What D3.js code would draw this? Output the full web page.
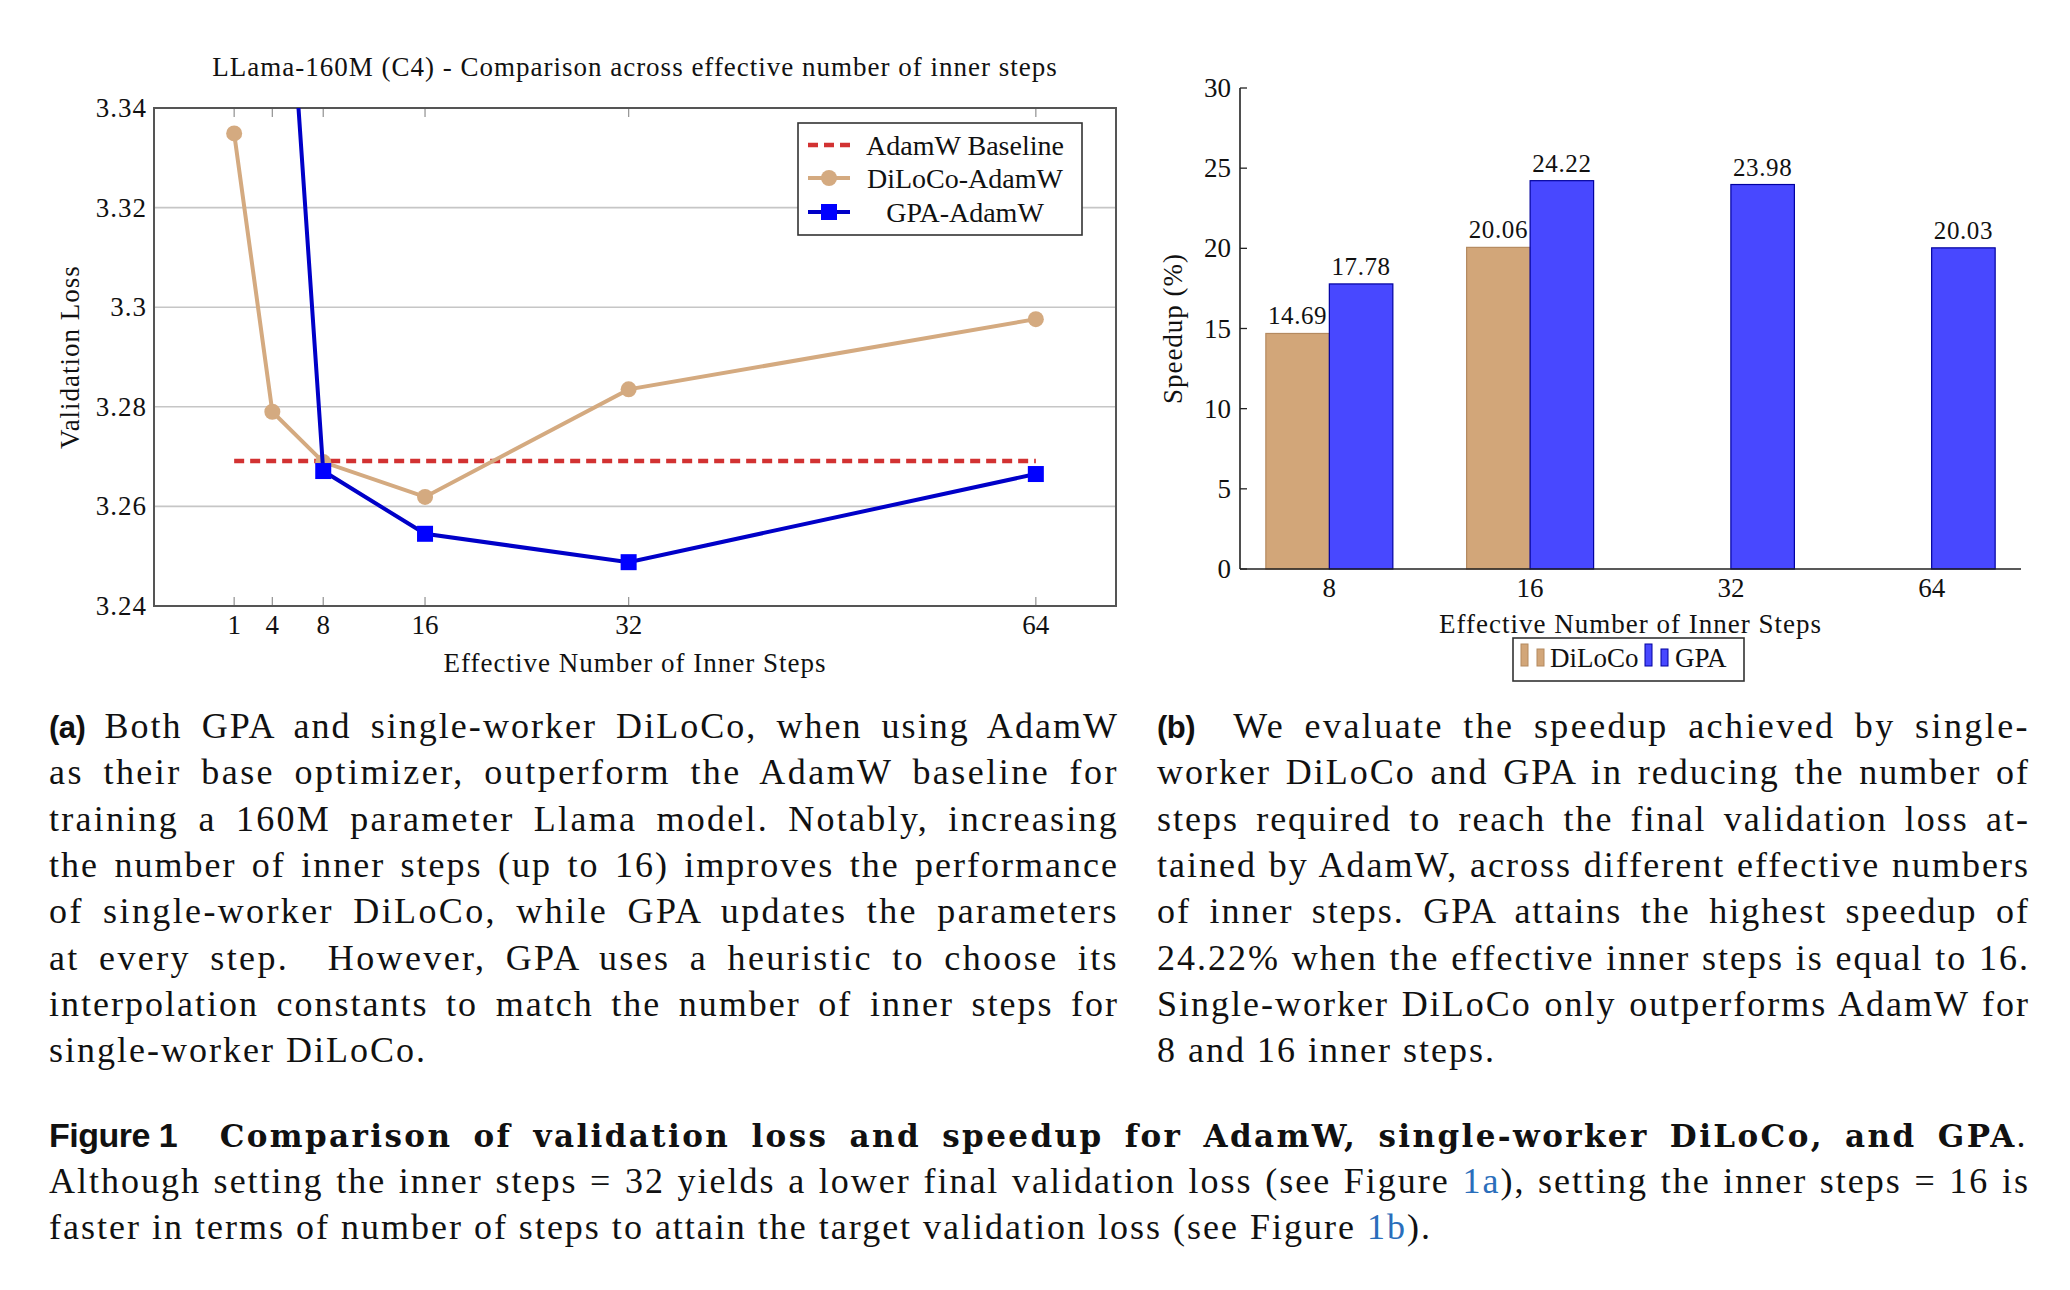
<!DOCTYPE html>
<html>
<head>
<meta charset="utf-8">
<script src="https://cdn.jsdelivr.net/npm/d3@7"></script>
<style>
  body { margin: 0; background: #fff; }
  text { font-family: "Liberation Serif", "Times New Roman", serif; fill: #111; }
  .ch { letter-spacing: 1px; }
</style>
</head>
<body>
<svg id="fig" width="2070" height="1290"></svg>
<script>
// values
var innerSteps = [1, 4, 8, 16, 32, 64];
var dilocoLoss = [3.3349, 3.2790, 3.2689, 3.2619, 3.2835, 3.2976];
var gpaSteps = [4, 8, 16, 32, 64];
var gpaLoss = [3.417, 3.2671, 3.2545, 3.2488, 3.2665];
var adamwBaseline = 3.2691;
var baselineSpan = [1, 64];
var lossTicks = [3.24, 3.26, 3.28, 3.30, 3.32, 3.34];
var lossTickLabels = ['3.24', '3.26', '3.28', '3.3', '3.32', '3.34'];

var speedupCats = ['8', '16', '32', '64'];
var dilocoSpeedup = [14.69, 20.06, null, null];
var gpaSpeedup = [17.78, 24.22, 23.98, 20.03];
var speedupTicks = [0, 5, 10, 15, 20, 25, 30];

var TAN = '#d2a679', TAN_LINE = '#d4aa80', BLUE = '#0000ff', BLUE_LINE = '#0000c8',
    BAR_BLUE = '#4848ff', RED = '#d23232';
var SERIF = '"Liberation Serif", "Times New Roman", serif';

var svg = d3.select('#fig');
svg.append('rect').attr('width', 2070).attr('height', 1290).attr('fill', '#fff');

// ---------- (a) line chart ----------
var L = {left: 154, right: 1116, top: 108, bottom: 606};
var x = d3.scaleLinear().domain([-5.3, 70.3]).range([L.left, L.right]);
var y = d3.scaleLinear().domain([3.24, 3.34]).range([L.bottom, L.top]);

var g1 = svg.append('g');
g1.append('clipPath').attr('id', 'clipL').append('rect')
  .attr('x', L.left).attr('y', L.top)
  .attr('width', L.right - L.left).attr('height', L.bottom - L.top);

g1.selectAll('.grid').data(lossTicks.slice(1, -1)).enter().append('line')
  .attr('class', 'grid')
  .attr('x1', L.left).attr('x2', L.right)
  .attr('y1', function(d) { return y(d); }).attr('y2', function(d) { return y(d); })
  .attr('stroke', '#c6c6c6').attr('stroke-width', 1.6);

// x tick marks (inside, bottom and top)
innerSteps.forEach(function(s) {
  g1.append('line').attr('x1', x(s)).attr('x2', x(s)).attr('y1', L.bottom).attr('y2', L.bottom - 9)
    .attr('stroke', '#999').attr('stroke-width', 1.3);
  g1.append('line').attr('x1', x(s)).attr('x2', x(s)).attr('y1', L.top).attr('y2', L.top + 9)
    .attr('stroke', '#999').attr('stroke-width', 1.3);
});

g1.append('rect')
  .attr('x', L.left).attr('y', L.top)
  .attr('width', L.right - L.left).attr('height', L.bottom - L.top)
  .attr('fill', 'none').attr('stroke', '#555').attr('stroke-width', 2);

g1.selectAll('.ylab').data(lossTicks).enter().append('text')
  .attr('class', 'ch')
  .attr('x', L.left - 7).attr('y', function(d) { return y(d) + 9; })
  .attr('text-anchor', 'end').attr('font-size', 27)
  .text(function(d, i) { return lossTickLabels[i]; });

g1.selectAll('.xlab').data(innerSteps).enter().append('text')
  .attr('x', function(d) { return x(d); }).attr('y', 634)
  .attr('text-anchor', 'middle').attr('font-size', 27)
  .text(function(d) { return d; });

g1.append('text').attr('class', 'ch')
  .attr('x', (L.left + L.right) / 2).attr('y', 76)
  .attr('text-anchor', 'middle').attr('font-size', 27)
  .text('LLama-160M (C4) - Comparison across effective number of inner steps');

g1.append('text').attr('class', 'ch')
  .attr('x', (L.left + L.right) / 2).attr('y', 672)
  .attr('text-anchor', 'middle').attr('font-size', 27)
  .text('Effective Number of Inner Steps');

g1.append('text').attr('class', 'ch')
  .attr('transform', 'translate(79,' + ((L.top + L.bottom) / 2) + ') rotate(-90)')
  .attr('text-anchor', 'middle').attr('font-size', 27)
  .text('Validation Loss');

var plot = g1.append('g').attr('clip-path', 'url(#clipL)');

plot.append('line')
  .attr('x1', x(baselineSpan[0])).attr('x2', x(baselineSpan[1]))
  .attr('y1', y(adamwBaseline)).attr('y2', y(adamwBaseline))
  .attr('stroke', RED).attr('stroke-width', 4.5).attr('stroke-dasharray', '10,6');

var line = d3.line()
  .x(function(d) { return x(d[0]); })
  .y(function(d) { return y(d[1]); });

var diloco = innerSteps.map(function(s, i) { return [s, dilocoLoss[i]]; });
var gpa = gpaSteps.map(function(s, i) { return [s, gpaLoss[i]]; });

plot.append('path').attr('d', line(diloco))
  .attr('fill', 'none').attr('stroke', TAN_LINE).attr('stroke-width', 4);
plot.selectAll('.dot').data(diloco).enter().append('circle')
  .attr('cx', function(d) { return x(d[0]); }).attr('cy', function(d) { return y(d[1]); })
  .attr('r', 8).attr('fill', TAN_LINE);

plot.append('path').attr('d', line(gpa))
  .attr('fill', 'none').attr('stroke', BLUE_LINE).attr('stroke-width', 4);
plot.selectAll('.sq').data(gpa).enter().append('rect')
  .attr('x', function(d) { return x(d[0]) - 8; }).attr('y', function(d) { return y(d[1]) - 8; })
  .attr('width', 16).attr('height', 16).attr('fill', BLUE);

// legend (a)
var lg = g1.append('g');
lg.append('rect').attr('x', 798).attr('y', 123).attr('width', 284).attr('height', 112)
  .attr('fill', '#fff').attr('stroke', '#333').attr('stroke-width', 1.6);
lg.append('line').attr('x1', 808).attr('x2', 850).attr('y1', 145).attr('y2', 145)
  .attr('stroke', RED).attr('stroke-width', 4.5).attr('stroke-dasharray', '10,6');
lg.append('line').attr('x1', 808).attr('x2', 850).attr('y1', 178).attr('y2', 178)
  .attr('stroke', TAN_LINE).attr('stroke-width', 4);
lg.append('circle').attr('cx', 829).attr('cy', 178).attr('r', 8).attr('fill', TAN_LINE);
lg.append('line').attr('x1', 808).attr('x2', 850).attr('y1', 212).attr('y2', 212)
  .attr('stroke', BLUE_LINE).attr('stroke-width', 4);
lg.append('rect').attr('x', 821).attr('y', 204).attr('width', 16).attr('height', 16).attr('fill', BLUE);
['AdamW Baseline', 'DiLoCo-AdamW', 'GPA-AdamW'].forEach(function(t, i) {
  lg.append('text').attr('x', 965).attr('y', [145, 178, 212][i] + 10)
    .attr('text-anchor', 'middle').attr('font-size', 28).text(t);
});

// ---------- (b) bar chart ----------
var R = {left: 1240, right: 2021, top: 88, bottom: 569};
var xb = d3.scalePoint().domain(speedupCats).range([R.left, R.right]).padding(0.445);
var yb = d3.scaleLinear().domain([0, 30]).range([R.bottom, R.top]);
var bw = 63.5;

var g2 = svg.append('g');

g2.selectAll('.bd').data(speedupCats.filter(function(c, i) { return dilocoSpeedup[i] != null; }))
  .enter().append('rect')
  .attr('x', function(c) { return xb(c) - bw; })
  .attr('y', function(c) { return yb(dilocoSpeedup[speedupCats.indexOf(c)]); })
  .attr('width', bw)
  .attr('height', function(c) { return yb(0) - yb(dilocoSpeedup[speedupCats.indexOf(c)]); })
  .attr('fill', TAN).attr('stroke', '#b48a60').attr('stroke-width', 1.2);

g2.selectAll('.bg').data(speedupCats).enter().append('rect')
  .attr('x', function(c) { return xb(c); })
  .attr('y', function(c, i) { return yb(gpaSpeedup[i]); })
  .attr('width', bw)
  .attr('height', function(c, i) { return yb(0) - yb(gpaSpeedup[i]); })
  .attr('fill', BAR_BLUE).attr('stroke', '#0000a0').attr('stroke-width', 1.2);

speedupCats.forEach(function(c, i) {
  if (dilocoSpeedup[i] != null) {
    g2.append('text').attr('x', xb(c) - bw / 2).attr('y', yb(dilocoSpeedup[i]) - 9)
      .attr('text-anchor', 'middle').attr('font-size', 25).style('letter-spacing', '0.6px')
      .text(dilocoSpeedup[i].toFixed(2));
  }
  g2.append('text').attr('x', xb(c) + bw / 2).attr('y', yb(gpaSpeedup[i]) - 9)
    .attr('text-anchor', 'middle').attr('font-size', 25).style('letter-spacing', '0.6px')
    .text(gpaSpeedup[i].toFixed(2));
});

g2.append('line').attr('x1', R.left).attr('x2', R.left).attr('y1', yb(0)).attr('y2', yb(30))
  .attr('stroke', '#222').attr('stroke-width', 1.6);
g2.append('line').attr('x1', R.left).attr('x2', R.right).attr('y1', yb(0)).attr('y2', yb(0))
  .attr('stroke', '#222').attr('stroke-width', 1.6);

g2.selectAll('.ytk').data(speedupTicks).enter().append('line')
  .attr('x1', R.left).attr('x2', R.left + 7)
  .attr('y1', function(d) { return yb(d); }).attr('y2', function(d) { return yb(d); })
  .attr('stroke', '#222').attr('stroke-width', 1.3);

g2.selectAll('.ytl').data(speedupTicks).enter().append('text')
  .attr('x', R.left - 9).attr('y', function(d) { return yb(d) + 9; })
  .attr('text-anchor', 'end').attr('font-size', 27).text(function(d) { return d; });

g2.selectAll('.xtl').data(speedupCats).enter().append('text')
  .attr('x', function(c) { return xb(c); }).attr('y', 597)
  .attr('text-anchor', 'middle').attr('font-size', 27).text(function(c) { return c; });

g2.append('text').attr('class', 'ch').attr('x', (R.left + R.right) / 2).attr('y', 633)
  .attr('text-anchor', 'middle').attr('font-size', 27).text('Effective Number of Inner Steps');

g2.append('text').attr('class', 'ch')
  .attr('transform', 'translate(1182,' + ((R.top + R.bottom) / 2) + ') rotate(-90)')
  .attr('text-anchor', 'middle').attr('font-size', 27).text('Speedup (%)');

var lg2 = g2.append('g');
lg2.append('rect').attr('x', 1513).attr('y', 638).attr('width', 231).attr('height', 43)
  .attr('fill', '#fff').attr('stroke', '#333').attr('stroke-width', 1.6);
lg2.append('rect').attr('x', 1521).attr('y', 644).attr('width', 7).attr('height', 22).attr('fill', TAN).attr('stroke', '#b48a60');
lg2.append('rect').attr('x', 1537).attr('y', 649).attr('width', 7).attr('height', 17).attr('fill', TAN).attr('stroke', '#b48a60');
lg2.append('text').attr('x', 1550).attr('y', 667).attr('font-size', 27).text('DiLoCo');
lg2.append('rect').attr('x', 1645).attr('y', 644).attr('width', 7).attr('height', 22).attr('fill', BAR_BLUE).attr('stroke', '#0000a0');
lg2.append('rect').attr('x', 1661).attr('y', 649).attr('width', 7).attr('height', 17).attr('fill', BAR_BLUE).attr('stroke', '#0000a0');
lg2.append('text').attr('x', 1675).attr('y', 667).attr('font-size', 27).text('GPA');

// ---------- captions ----------
var captionA = [
  [['(a)', 'bs'], [' Both GPA and single-worker DiLoCo, when using AdamW', 'n']],
  [['as their base optimizer, outperform the AdamW baseline for', 'n']],
  [['training a 160M parameter Llama model. Notably, increasing', 'n']],
  [['the number of inner steps (up to 16) improves the performance', 'n']],
  [['of single-worker DiLoCo, while GPA updates the parameters', 'n']],
  [['at every step.  However, GPA uses a heuristic to choose its', 'n']],
  [['interpolation constants to match the number of inner steps for', 'n']],
  [['single-worker DiLoCo.', 'n']]
];
var captionB = [
  [['(b)', 'bs'], ['  We evaluate the speedup achieved by single-', 'n']],
  [['worker DiLoCo and GPA in reducing the number of', 'n']],
  [['steps required to reach the final validation loss at-', 'n']],
  [['tained by AdamW, across different effective numbers', 'n']],
  [['of inner steps. GPA attains the highest speedup of', 'n']],
  [['24.22% when the effective inner steps is equal to 16.', 'n']],
  [['Single-worker DiLoCo only outperforms AdamW for', 'n']],
  [['8 and 16 inner steps.', 'n']]
];
var captionFig = [
  [['Figure 1', 'bs'], ['  Comparison of validation loss and speedup for AdamW, single-worker DiLoCo, and GPA', 'b'], ['.', 'n']],
  [['Although setting the inner steps = 32 yields a lower final validation loss (see Figure ', 'n'], ['1a', 'link'],
   ['), setting the inner steps = 16 is', 'n']],
  [['faster in terms of number of steps to attain the target validation loss (see Figure ', 'n'], ['1b', 'link'], [').', 'n']]
];

var CAP_LS = 2;
function writeLine(x0, x1, yBase, parts, justify, bsSize) {
  var t = svg.append('text').attr('x', x0).attr('y', yBase)
    .style('font-family', SERIF).style('font-size', '36px')
    .style('white-space', 'pre').style('letter-spacing', CAP_LS + 'px');
  var full = '', spans = [];
  parts.forEach(function(p) {
    var ts = t.append('tspan').text(p[0]);
    spans.push([ts, p]);
    if (p[1] == 'bs') ts.style('font-family', '"Liberation Sans", Arial, sans-serif').style('font-weight', 'bold')
      .style('font-size', bsSize + 'px').style('letter-spacing', '-0.5px').style('word-spacing', '0px');
    else full += p[0];
    if (p[1] == 'b') ts.style('font-family', '"DejaVu Serif", serif').style('font-weight', 'bold')
      .style('font-size', '31px').style('letter-spacing', '0px');
    if (p[1] == 'link') ts.style('fill', '#2a6ebb');
  });
  if (justify) {
    var natural = t.node().getComputedTextLength();
    var spaces = full.split(' ').length - 1;
    var extra = x1 - x0 - natural;
    var ws = extra / spaces;
    if (ws > 8) {
      // too loose: give part of it to the letters (spaces get letter-spacing too)
      var addLs = (extra - 8 * spaces) / full.length;
      spans.forEach(function(s) {
        if (s[1][1] == 'bs') return;
        var base = s[1][1] == 'b' ? 0 : CAP_LS;
        s[0].style('letter-spacing', (base + addLs) + 'px');
      });
      ws = 8;
    }
    t.style('word-spacing', ws + 'px');
    spans.forEach(function(s) { if (s[1][1] == 'bs') s[0].style('word-spacing', '0px'); });
  }
}

captionA.forEach(function(l, i) { writeLine(49, 1119, 738 + i * 46.3, l, i < captionA.length - 1, 31); });
captionB.forEach(function(l, i) { writeLine(1157, 2030, 738 + i * 46.3, l, i < captionB.length - 1, 31); });
captionFig.forEach(function(l, i) { writeLine(49, 2030, 1147 + i * 46, l, i < captionFig.length - 1, 34); });
</script>
</body>
</html>
